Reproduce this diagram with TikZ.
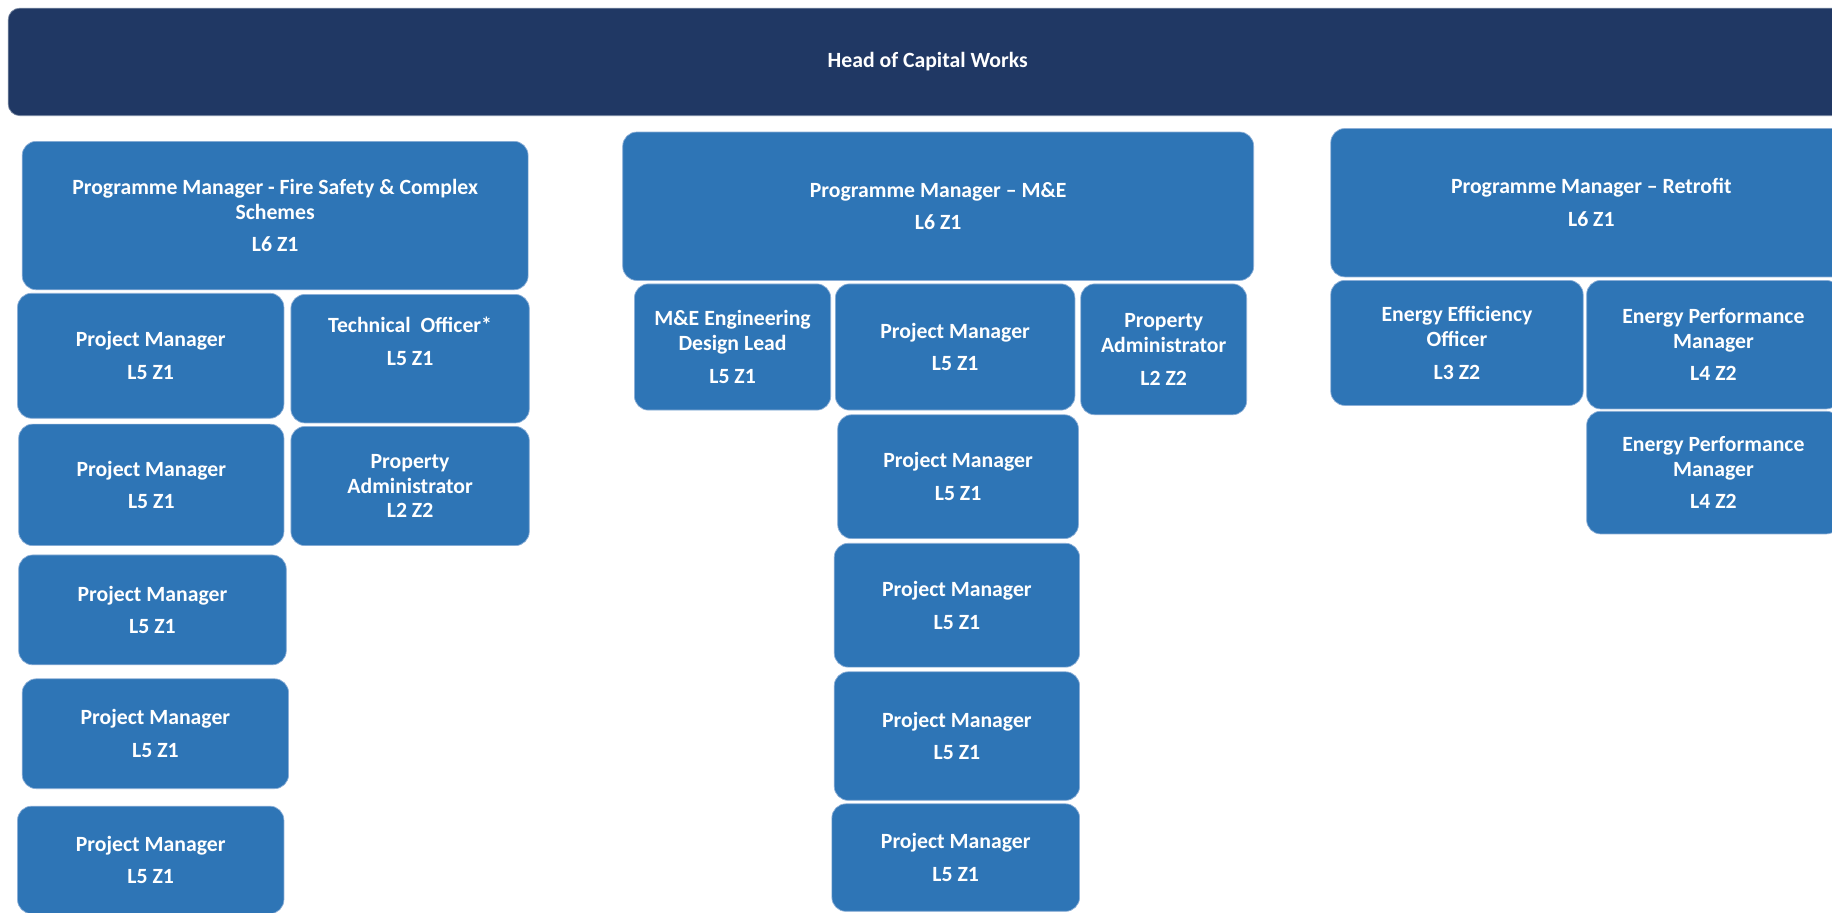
\documentclass[tikz,border=0pt]{standalone}
\usepackage{fontspec}
\setmainfont{Carlito}
\definecolor{headblue}{RGB}{32,56,100}
\definecolor{boxblue}{RGB}{46,117,182}
\definecolor{edgeblue}{RGB}{140,175,215}
\tikzset{
  orgbox/.style={rectangle, rounded corners=6pt, fill=boxblue, draw=edgeblue,
    line width=0.3pt, text=white, align=center, inner sep=0pt,
    font=\fontsize{9.3}{10.6}\selectfont\bfseries},
  headbox/.style={orgbox, fill=headblue, draw=headblue!60!white, rounded corners=5pt},
  bx/.style n args={2}{minimum width=#1*0.5pt, minimum height=#2*0.5pt}
}
\newcommand{\gapline}{\\[3.4pt]}
\begin{document}
\begin{tikzpicture}[x=0.5pt,y=-0.5pt]
\clip (0,0) rectangle (1568,781);
\fill[white] (0,0) rectangle (1568,781);
% head
\node[headbox, bx={1574}{92}] (head) at (794,53) {Head of Capital Works};
% column 1
\node[orgbox, bx={433}{127}] (pmf) at (235.5,184.5) {Programme Manager - Fire Safety \& Complex\\Schemes\gapline L6 Z1};
\node[orgbox, bx={228}{107}] (pm1) at (129,304.5) {Project Manager\gapline L5 Z1};
\node[orgbox, bx={204}{110}] (to) at (351,307) {Technical\ \ Officer*\gapline L5 Z1\\[4.5pt]\mbox{}};
\node[orgbox, bx={227}{104}] (pm2) at (129.5,415) {Project Manager\gapline L5 Z1};
\node[orgbox, bx={204}{102}] (pa1) at (351,416) {Property\\Administrator\\L2 Z2};
\node[orgbox, bx={229}{94}] (pm3) at (130.5,522) {Project Manager\gapline L5 Z1};
\node[orgbox, bx={228}{94}] (pm4) at (133,628) {Project Manager\gapline L5 Z1};
\node[orgbox, bx={228}{92}] (pm5) at (129,736) {Project Manager\gapline L5 Z1};
% column 2
\node[orgbox, bx={540}{127}] (pmme) at (803,176.5) {Programme Manager -- M\&E\gapline L6 Z1};
\node[orgbox, bx={168}{108}] (mel) at (627,297) {M\&E Engineering\\Design Lead\gapline L5 Z1};
\node[orgbox, bx={205}{108}] (pmc1) at (817.5,297) {Project Manager\gapline L5 Z1};
\node[orgbox, bx={142}{112}] (pa2) at (996,299) {Property\\Administrator\gapline L2 Z2};
\node[orgbox, bx={206}{106}] (pmc2) at (820,408) {Project Manager\gapline L5 Z1};
\node[orgbox, bx={210}{106}] (pmc3) at (819,518) {Project Manager\gapline L5 Z1};
\node[orgbox, bx={210}{110}] (pmc4) at (819,630) {Project Manager\gapline L5 Z1};
\node[orgbox, bx={212}{92}] (pmc5) at (818,734) {Project Manager\gapline L5 Z1};
% column 3
\node[orgbox, bx={446}{127}] (pmr) at (1362,173.5) {Programme Manager -- Retrofit\gapline L6 Z1};
\node[orgbox, bx={216}{107}] (eeo) at (1247,293.5) {Energy Efficiency\\Officer\gapline L3 Z2};
\node[orgbox, bx={217}{110}] (epm1) at (1466.5,295) {Energy Performance\\Manager\gapline L4 Z2};
\node[orgbox, bx={217}{105}] (epm2) at (1466.5,404.5) {Energy Performance\\Manager\gapline L4 Z2};
\end{tikzpicture}
\end{document}
